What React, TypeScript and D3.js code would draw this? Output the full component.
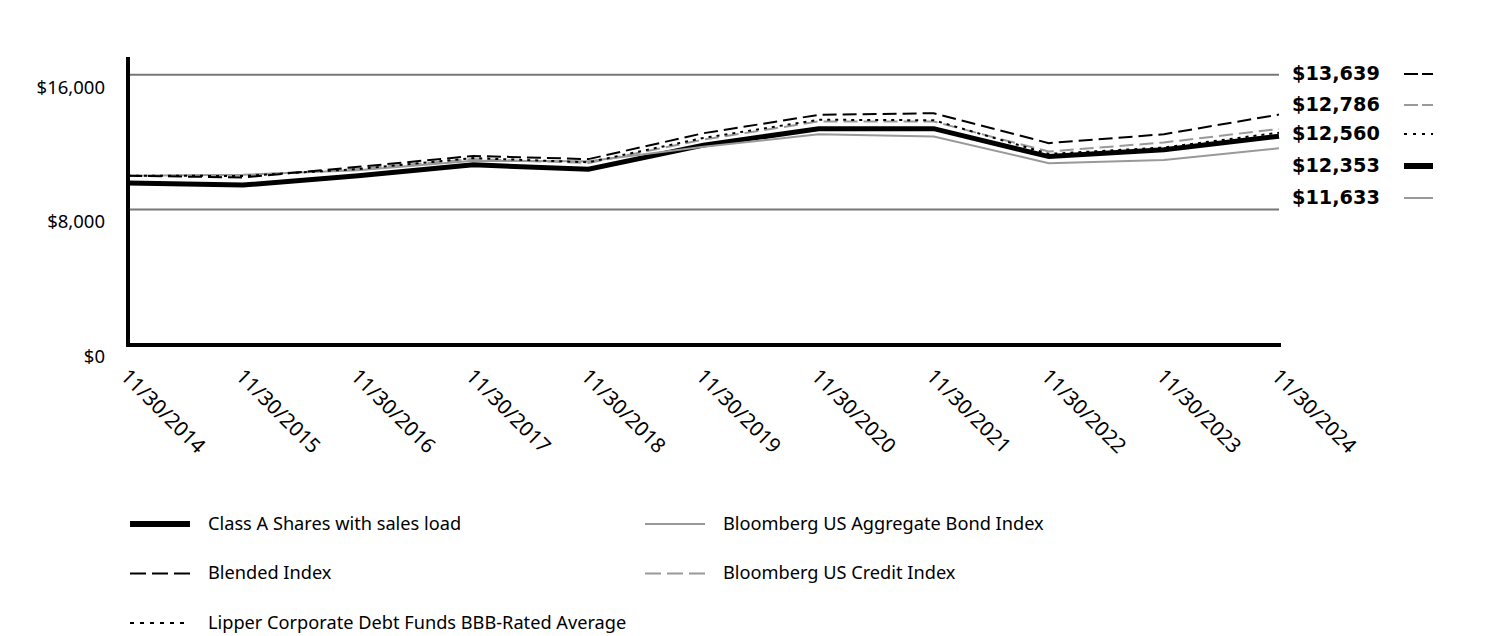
import React from "react";
import * as d3 from "d3";

const years = ["11/30/2014","11/30/2015","11/30/2016","11/30/2017","11/30/2018","11/30/2019","11/30/2020","11/30/2021","11/30/2022","11/30/2023","11/30/2024"];
const classA = [9575, 9450, 10000, 10650, 10390, 11820, 12790, 12800, 11140, 11540, 12353];
const blended = [10000, 9900, 10530, 11180, 10990, 12530, 13620, 13720, 11940, 12470, 13639];
const credit = [10000, 10020, 10420, 10990, 10760, 12150, 13230, 13220, 11440, 11980, 12786];
const lipper = [10000, 9990, 10400, 11050, 10800, 12250, 13330, 13300, 11300, 11680, 12560];
const agg = [10000, 10060, 10330, 10890, 10870, 11720, 12470, 12330, 10750, 10940, 11633];
const yTicks = [0, 8000, 16000];

const series = [
  { name: "Blended Index", values: blended, color: "#000", width: 2, dash: "14 6", end: "$13,639", legendDash: "14 4" },
  { name: "Bloomberg US Credit Index", values: credit, color: "#999", width: 2, dash: "14 6", end: "$12,786", legendDash: "14 4" },
  { name: "Lipper Corporate Debt Funds BBB-Rated Average", values: lipper, color: "#000", width: 2, dash: "3 5", end: "$12,560", legendDash: "3 6" },
  { name: "Bloomberg US Aggregate Bond Index", values: agg, color: "#999", width: 2, dash: "", end: "$11,633", legendDash: "" },
  { name: "Class A Shares with sales load", values: classA, color: "#000", width: 5, dash: "", end: "$12,353", legendDash: "" },
];

const endOrder = ["Blended Index", "Bloomberg US Credit Index", "Lipper Corporate Debt Funds BBB-Rated Average", "Class A Shares with sales load", "Bloomberg US Aggregate Bond Index"];
const endY = [74, 105, 134, 166, 198];

const legendItems = [
  { name: "Class A Shares with sales load", col: 0, row: 0 },
  { name: "Bloomberg US Aggregate Bond Index", col: 1, row: 0 },
  { name: "Blended Index", col: 0, row: 1 },
  { name: "Bloomberg US Credit Index", col: 1, row: 1 },
  { name: "Lipper Corporate Debt Funds BBB-Rated Average", col: 0, row: 2 },
];

export default function App() {
  const x = d3.scalePoint<string>().domain(years).range([128, 1279]);
  const y = d3.scaleLinear().domain([0, 17000]).range([344, 58]);
  const line = d3.line<number>().x((_, i) => x(years[i])!).y((d) => y(d));
  const font = "'Noto Sans', Lato, sans-serif";
  const byName = (n: string) => series.find((s) => s.name === n)!;
  const drawOrder = ["Class A Shares with sales load", "Bloomberg US Aggregate Bond Index", "Bloomberg US Credit Index", "Lipper Corporate Debt Funds BBB-Rated Average", "Blended Index"];
  return (
    <svg width={1512} height={636} style={{ position: "absolute", left: 0, top: 0 }} fontFamily={font}>
      {yTicks.filter((t) => t > 0).map((t) => (
        <line key={t} x1={128} x2={1279} y1={y(t)} y2={y(t)} stroke="#777" strokeWidth={2} />
      ))}
      {yTicks.map((t) => (
        <text key={t} x={105} y={y(t) + 14} textAnchor="end" dominantBaseline="middle" fontSize={18.5} fill="#000">
          {d3.format("$,")(t)}
        </text>
      ))}
      {drawOrder.map((n) => {
        const s = byName(n);
        return (
          <path key={n} d={line(s.values)!} fill="none" stroke={s.color} strokeWidth={s.width}
            strokeDasharray={s.dash || undefined} />
        );
      })}
      <line x1={128} x2={128} y1={57} y2={347} stroke="#000" strokeWidth={4} />
      <line x1={126} x2={1281} y1={345} y2={345} stroke="#000" strokeWidth={4} />
      {years.map((yr) => (
        <text key={yr} transform={`translate(${x(yr)! + 4},${365}) rotate(45)`} fontSize={20.5} fill="#000" dominantBaseline="hanging">
          {yr}
        </text>
      ))}
      {endOrder.map((n, i) => {
        const s = byName(n);
        return (
          <g key={n}>
            <text x={1292} y={endY[i]} dominantBaseline="middle" fontSize={19.3} fontWeight="bold" fill="#000"
              fontFamily="'DejaVu Sans', sans-serif">{s.end}</text>
            <line x1={1404} x2={1433} y1={endY[i]} y2={endY[i]} stroke={s.color}
              strokeWidth={s.width === 5 ? 6 : 2} strokeDasharray={s.legendDash || undefined} />
          </g>
        );
      })}
      {legendItems.map((it) => {
        const s = byName(it.name);
        const lx = it.col === 0 ? 130 : 645;
        const ly = 524 + it.row * 49.5;
        return (
          <g key={it.name}>
            <line x1={lx} x2={lx + 60} y1={ly} y2={ly} stroke={s.color} strokeWidth={s.width === 5 ? 6 : 2}
              strokeDasharray={s.legendDash ? (s.dash === "3 5" ? "4 6" : "16 6") : undefined} />
            <text x={lx + 78} y={ly + 1} dominantBaseline="middle" fontSize={18.2} fill="#000">{it.name}</text>
          </g>
        );
      })}
    </svg>
  );
}
